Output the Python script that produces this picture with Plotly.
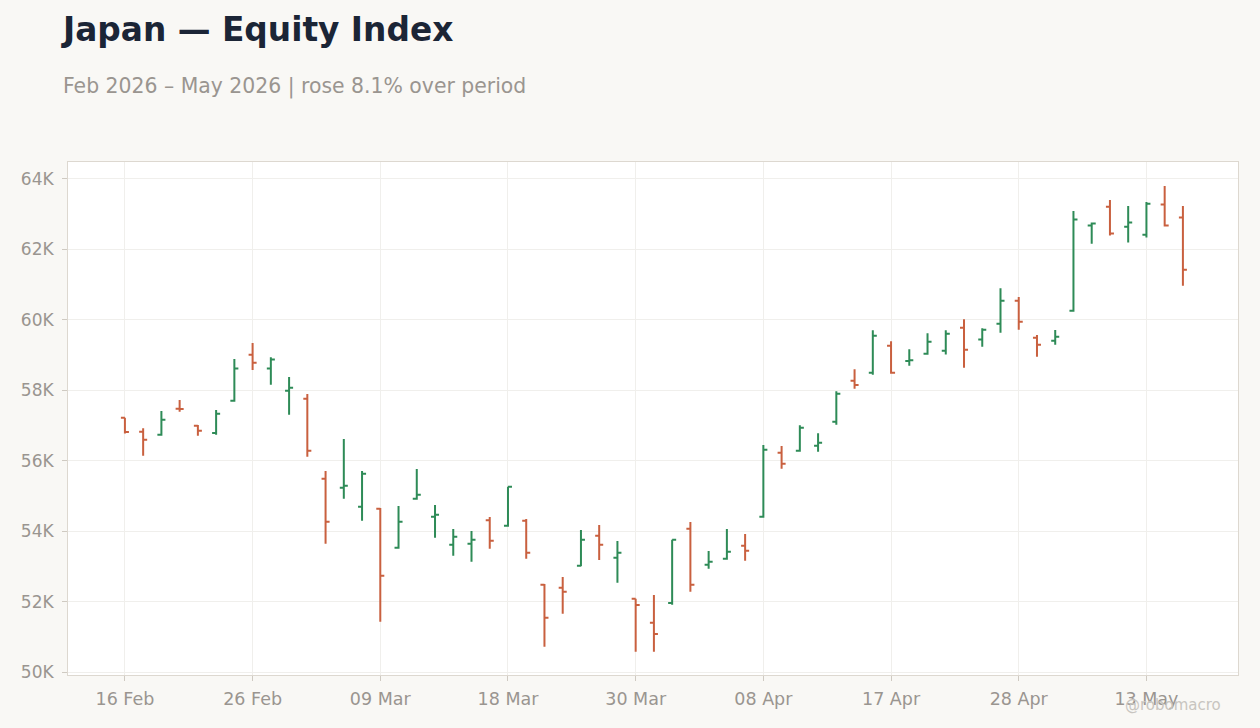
import plotly.graph_objects as go

dates = [
    "2026-02-16", "2026-02-17", "2026-02-18", "2026-02-19", "2026-02-20", "2026-02-24", "2026-02-25", "2026-02-26", "2026-02-27",
    "2026-03-02", "2026-03-03", "2026-03-04", "2026-03-05", "2026-03-06", "2026-03-09", "2026-03-10", "2026-03-11", "2026-03-12",
    "2026-03-13", "2026-03-16", "2026-03-17", "2026-03-18", "2026-03-19", "2026-03-23", "2026-03-24", "2026-03-25", "2026-03-26",
    "2026-03-27", "2026-03-30", "2026-03-31",
    "2026-04-01", "2026-04-02", "2026-04-03", "2026-04-06", "2026-04-07", "2026-04-08", "2026-04-09", "2026-04-10", "2026-04-13",
    "2026-04-14", "2026-04-15", "2026-04-16", "2026-04-17", "2026-04-20", "2026-04-21", "2026-04-22", "2026-04-23", "2026-04-24",
    "2026-04-27", "2026-04-28", "2026-04-30",
    "2026-05-01", "2026-05-07", "2026-05-08", "2026-05-11", "2026-05-12", "2026-05-13", "2026-05-14", "2026-05-15",
]

open_ = [57221, 56823, 56739, 57477, 56994, 56786, 57704, 59010, 58615, 57988,
         57761, 55489, 55233, 54694, 54637, 53529, 54921, 54410, 53614, 53643,
         54306, 54154, 54296, 52478, 52393, 53018, 53870, 53245, 52081, 51399,
         51958, 54069, 53047, 53216, 53586, 54410, 56227, 56284, 56426, 57108,
         58272, 58499, 59266, 58830, 59039, 59124, 59777, 59437, 59891, 60544,
         59493, 59408, 60260, 62674, 63213, 62645, 62418, 63270, 62901]
high = [57221, 56920, 57411, 57724, 57014, 57440, 58888, 59342, 58936, 58377,
        57894, 55707, 56616, 55707, 54656, 54713, 55764, 54742, 54060, 54003,
        54400, 55262, 54344, 52498, 52697, 54032, 54174, 53719, 52081, 52186,
        53756, 54259, 53435, 54060, 53918, 56446, 56417, 57005, 56777, 57970,
        58595, 59703, 59391, 59163, 59618, 59703, 60015, 59760, 60896, 60649,
        59570, 59712, 63091, 62759, 63404, 63233, 63347, 63801, 63233]
low = [56770, 56142, 56710, 57392, 56710, 56739, 57676, 58576, 58158, 57306,
       56113, 53643, 54921, 54296, 51427, 53500, 54892, 53813, 53302, 53131,
       53500, 54125, 53216, 50717, 51654, 53000, 53180, 52535, 50577, 50577,
       51910, 52280, 52932, 53190, 53160, 54380, 55773, 56256, 56256, 57022,
       58045, 58442, 58470, 58698, 59010, 59016, 58641, 59237, 59635, 59720,
       58953, 59294, 60231, 62162, 62390, 62191, 62333, 62650, 60970]
close = [56815, 56596, 57164, 57468, 56853, 57335, 58615, 58783, 58870, 58073,
         56284, 54268, 55290, 55631, 52734, 54268, 55034, 54466, 53841, 53756,
         53728, 55262, 53387, 51541, 52280, 53756, 53614, 53387, 51902, 51078,
         53756, 52478, 53131, 53415, 53444, 56312, 55914, 56937, 56511, 57903,
         58150, 59550, 58499, 58850, 59380, 59607, 59152, 59720, 60544, 59947,
         59294, 59522, 62844, 62731, 62447, 62759, 63298, 62674, 61424]

tick_dates = [dates[i] for i in range(0, len(dates), 7)]
tick_labels = ["16 Feb", "26 Feb", "09 Mar", "18 Mar", "30 Mar", "08 Apr", "17 Apr", "28 Apr", "13 May"]
y_ticks = [50000, 52000, 54000, 56000, 58000, 60000, 62000, 64000]
y_labels = ["50K", "52K", "54K", "56K", "58K", "60K", "62K", "64K"]

GREEN = "#2e8b57"
RED = "#c9603f"
GRAY = "#9a9590"

fig = go.Figure(go.Ohlc(
    x=dates, open=open_, high=high, low=low, close=close,
    increasing=dict(line=dict(color=GREEN, width=2)),
    decreasing=dict(line=dict(color=RED, width=2)),
    tickwidth=0.22,
))

fig.update_layout(
    width=1260, height=728,
    paper_bgcolor="#f9f8f5", plot_bgcolor="#ffffff",
    margin=dict(l=68, r=22, t=162, b=53),
    showlegend=False,
    font=dict(family="DejaVu Sans", color=GRAY, size=17),
    annotations=[
        dict(text="<b>Japan — Equity Index</b>", xref="paper", yref="paper",
             x=-0.0075, y=1.0, xanchor="left", yanchor="middle",
             yshift=132, showarrow=False,
             font=dict(size=32.8, color="#1b2536", family="DejaVu Sans")),
        dict(text="Feb 2026 – May 2026 | rose 8.1% over period", xref="paper", yref="paper",
             x=-0.0075, y=1.0, xanchor="left", yanchor="middle",
             xshift=2, yshift=76, showarrow=False,
             font=dict(size=20.4, color=GRAY, family="DejaVu Sans")),
        dict(text="@robomacro", xref="paper", yref="paper",
             x=1.0, y=0.0, xanchor="right", yanchor="middle",
             xshift=-15, yshift=-30, showarrow=False,
             font=dict(size=15, color="#c8c5c0", family="DejaVu Sans")),
    ],
)

fig.update_xaxes(
    type="category", rangeslider=dict(visible=False),
    range=[-3.12, 61.02],
    tickmode="array", tickvals=tick_dates, ticktext=tick_labels,
    showgrid=True, gridcolor="#f0efec", gridwidth=1,
    ticks="outside", ticklen=5, tickcolor="#cfcac2",
    ticklabelstandoff=3,
    showline=True, linecolor="#ddd8d0", linewidth=1, mirror=True,
    tickfont=dict(size=17.5, color=GRAY),
)
fig.update_yaxes(
    range=[49915, 64480],
    tickmode="array", tickvals=y_ticks, ticktext=y_labels,
    showgrid=True, gridcolor="#f0efec", gridwidth=1,
    ticks="outside", ticklen=5, tickcolor="#cfcac2",
    ticklabelstandoff=5,
    showline=True, linecolor="#ddd8d0", linewidth=1, mirror=True,
    zeroline=False,
    tickfont=dict(size=17, color=GRAY),
)

fig.write_html("out.html")
